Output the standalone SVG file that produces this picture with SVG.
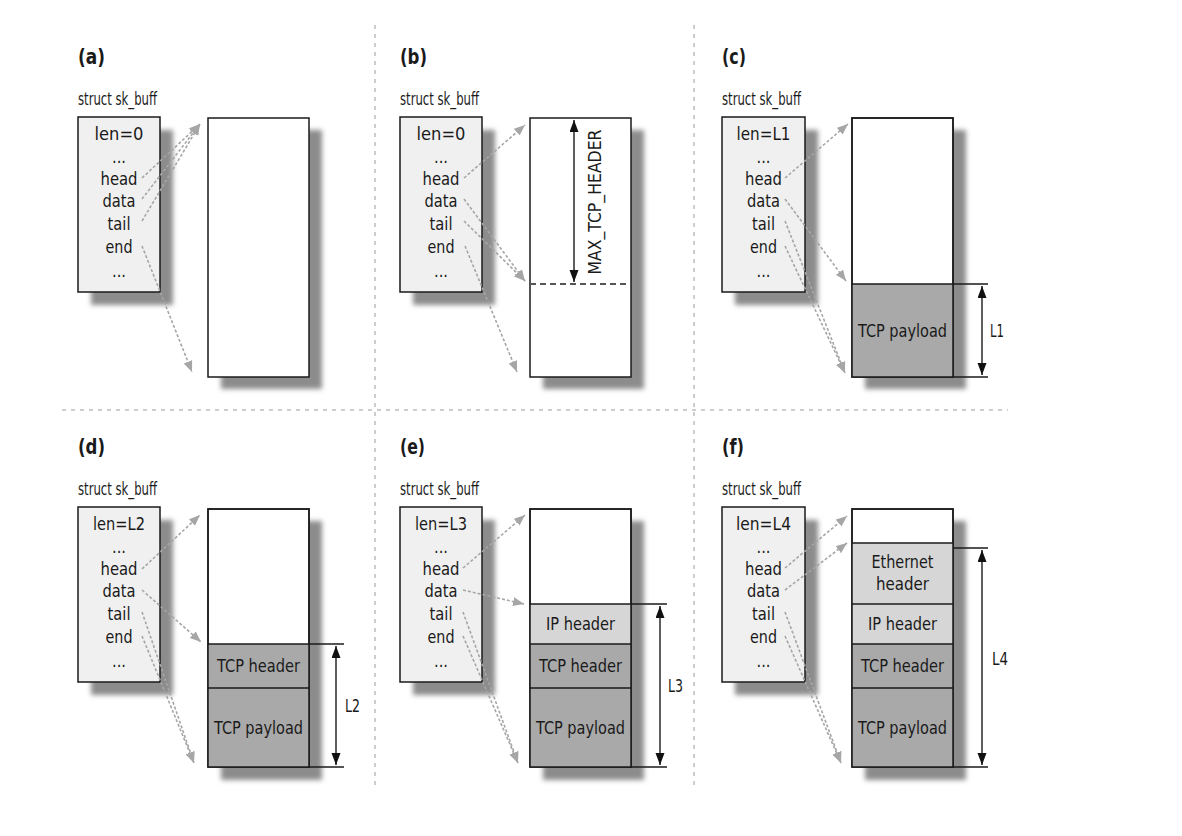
<svg xmlns="http://www.w3.org/2000/svg" width="1182" height="836" viewBox="0 0 1182 836">
<defs>
<style>
.t{font-family:"Liberation Sans Narrow","DejaVu Sans Condensed","Liberation Sans",Arial,sans-serif;fill:#1a1a1a;font-size:18.5px}
.m{text-anchor:middle}
.ttl{font-size:22px;font-weight:bold}
.box{stroke:#1a1a1a;stroke-width:1.5}
.sb{fill:#f0f0f0}
.buf{fill:#ffffff}
.dk{fill:#a9a9a9}
.lt{fill:#d6d6d6}
.sh{fill:#8c8c8c}
.div{stroke:#1a1a1a;stroke-width:1.5;fill:none}
.ptr{fill:none;stroke:#a6a6a6;stroke-width:1.6;stroke-dasharray:3 2;marker-end:url(#gh)}
.dim{stroke:#1a1a1a;stroke-width:1.3;fill:none}
.dar{stroke:#1a1a1a;stroke-width:1.4;fill:none;marker-start:url(#bh);marker-end:url(#bh)}
.sep{stroke:#bdbdbd;stroke-width:1.5;stroke-dasharray:4 5;fill:none}
</style>
<filter id="blur" x="-20%" y="-20%" width="140%" height="140%"><feGaussianBlur stdDeviation="2.5"/></filter>
<marker id="gh" markerWidth="12" markerHeight="10" refX="11" refY="4.5" orient="auto" markerUnits="userSpaceOnUse"><path d="M0,0 L11,4.5 L0,9 z" fill="#a6a6a6"/></marker>
<marker id="bh" markerWidth="13" markerHeight="10" refX="12" refY="4.5" orient="auto-start-reverse" markerUnits="userSpaceOnUse"><path d="M0,0 L12,4.5 L0,9 z" fill="#111"/></marker>
</defs>
<rect width="1182" height="836" fill="#ffffff"/>

<g id="separators">
<line class="sep" x1="375" y1="25" x2="375" y2="786"/>
<line class="sep" x1="694" y1="25" x2="694" y2="786"/>
<line class="sep" x1="62" y1="410" x2="1008" y2="410"/>
</g>

<!-- Panel a -->
<g id="panel-a">
<text class="t ttl" x="78" y="64" textLength="27" lengthAdjust="spacingAndGlyphs">(a)</text>
<g id="a-struct">
<rect class="sh" x="91" y="130" width="82" height="175" filter="url(#blur)"/>
<rect class="box sb" x="78" y="117" width="82" height="175"/>
<text class="t" x="78" y="105" textLength="79" lengthAdjust="spacingAndGlyphs">struct sk_buff</text>
<text class="t m" x="119" y="140" textLength="49" lengthAdjust="spacingAndGlyphs">len=0</text>
<text class="t m" x="119" y="163" textLength="14" lengthAdjust="spacingAndGlyphs">...</text>
<text class="t m" x="119" y="185" textLength="37" lengthAdjust="spacingAndGlyphs">head</text>
<text class="t m" x="119" y="207" textLength="33" lengthAdjust="spacingAndGlyphs">data</text>
<text class="t m" x="119" y="230" textLength="23" lengthAdjust="spacingAndGlyphs">tail</text>
<text class="t m" x="119" y="253" textLength="27" lengthAdjust="spacingAndGlyphs">end</text>
<text class="t m" x="119" y="277" textLength="14" lengthAdjust="spacingAndGlyphs">...</text>
</g>
<g id="a-buffer">
<rect class="sh" x="221" y="130" width="101" height="259" filter="url(#blur)"/>
<rect class="box buf" x="208" y="118" width="101" height="259"/>
</g>
</g>

<!-- Panel b -->
<g id="panel-b" transform="translate(322,0)">
<text class="t ttl" x="78" y="64" textLength="27" lengthAdjust="spacingAndGlyphs">(b)</text>
<g id="b-struct">
<rect class="sh" x="91" y="130" width="82" height="175" filter="url(#blur)"/>
<rect class="box sb" x="78" y="117" width="82" height="175"/>
<text class="t" x="78" y="105" textLength="79" lengthAdjust="spacingAndGlyphs">struct sk_buff</text>
<text class="t m" x="119" y="140" textLength="49" lengthAdjust="spacingAndGlyphs">len=0</text>
<text class="t m" x="119" y="163" textLength="14" lengthAdjust="spacingAndGlyphs">...</text>
<text class="t m" x="119" y="185" textLength="37" lengthAdjust="spacingAndGlyphs">head</text>
<text class="t m" x="119" y="207" textLength="33" lengthAdjust="spacingAndGlyphs">data</text>
<text class="t m" x="119" y="230" textLength="23" lengthAdjust="spacingAndGlyphs">tail</text>
<text class="t m" x="119" y="253" textLength="27" lengthAdjust="spacingAndGlyphs">end</text>
<text class="t m" x="119" y="277" textLength="14" lengthAdjust="spacingAndGlyphs">...</text>
</g>
<g id="b-buffer">
<rect class="sh" x="221" y="130" width="101" height="259" filter="url(#blur)"/>
<rect class="box buf" x="208" y="118" width="101" height="259"/>
<line x1="208" y1="284" x2="309" y2="284" stroke="#555" stroke-width="2" stroke-dasharray="6 4"/>
<line class="dar" x1="252" y1="120" x2="252" y2="282"/>
<text class="t m" transform="translate(279,202) rotate(-90)" textLength="145" lengthAdjust="spacingAndGlyphs">MAX_TCP_HEADER</text>
</g>
</g>

<!-- Panel c -->
<g id="panel-c" transform="translate(644,0)">
<text class="t ttl" x="78" y="64" textLength="24" lengthAdjust="spacingAndGlyphs">(c)</text>
<g id="c-struct">
<rect class="sh" x="91" y="130" width="83" height="175" filter="url(#blur)"/>
<rect class="box sb" x="78" y="117" width="83" height="175"/>
<text class="t" x="78" y="105" textLength="79" lengthAdjust="spacingAndGlyphs">struct sk_buff</text>
<text class="t m" x="119.5" y="140" textLength="54" lengthAdjust="spacingAndGlyphs">len=L1</text>
<text class="t m" x="119.5" y="163" textLength="14" lengthAdjust="spacingAndGlyphs">...</text>
<text class="t m" x="119.5" y="185" textLength="37" lengthAdjust="spacingAndGlyphs">head</text>
<text class="t m" x="119.5" y="207" textLength="33" lengthAdjust="spacingAndGlyphs">data</text>
<text class="t m" x="119.5" y="230" textLength="23" lengthAdjust="spacingAndGlyphs">tail</text>
<text class="t m" x="119.5" y="253" textLength="27" lengthAdjust="spacingAndGlyphs">end</text>
<text class="t m" x="119.5" y="277" textLength="14" lengthAdjust="spacingAndGlyphs">...</text>
</g>
<g id="c-buffer">
<rect class="sh" x="221" y="130" width="101" height="259" filter="url(#blur)"/>
<rect class="box buf" x="208" y="118" width="101" height="259"/>
<rect class="dk" x="208" y="284" width="101" height="93"/>
<rect class="box" fill="none" x="208" y="118" width="101" height="259"/>
<line class="div" x1="208" y1="284" x2="309" y2="284"/>
<text class="t m" x="258.5" y="337" textLength="89" lengthAdjust="spacingAndGlyphs">TCP payload</text>
</g>
<g id="c-dim">
<line class="dim" x1="309" y1="284" x2="344" y2="284"/>
<line class="dim" x1="309" y1="377" x2="344" y2="377"/>
<line class="dar" x1="338" y1="286" x2="338" y2="375"/>
<text class="t" x="346" y="337" textLength="14" lengthAdjust="spacingAndGlyphs">L1</text>
</g>
</g>

<!-- Panel d -->
<g id="panel-d" transform="translate(0,390)">
<text class="t ttl" x="78" y="64" textLength="27" lengthAdjust="spacingAndGlyphs">(d)</text>
<g id="d-struct">
<rect class="sh" x="91" y="130" width="82" height="175" filter="url(#blur)"/>
<rect class="box sb" x="78" y="117" width="82" height="175"/>
<text class="t" x="78" y="105" textLength="79" lengthAdjust="spacingAndGlyphs">struct sk_buff</text>
<text class="t m" x="119" y="140" textLength="52" lengthAdjust="spacingAndGlyphs">len=L2</text>
<text class="t m" x="119" y="163" textLength="14" lengthAdjust="spacingAndGlyphs">...</text>
<text class="t m" x="119" y="185" textLength="37" lengthAdjust="spacingAndGlyphs">head</text>
<text class="t m" x="119" y="207" textLength="33" lengthAdjust="spacingAndGlyphs">data</text>
<text class="t m" x="119" y="230" textLength="23" lengthAdjust="spacingAndGlyphs">tail</text>
<text class="t m" x="119" y="253" textLength="27" lengthAdjust="spacingAndGlyphs">end</text>
<text class="t m" x="119" y="277" textLength="14" lengthAdjust="spacingAndGlyphs">...</text>
</g>
<g id="d-buffer">
<rect class="sh" x="221" y="131" width="101" height="259" filter="url(#blur)"/>
<rect class="box buf" x="208" y="119" width="101" height="258"/>
<rect class="dk" x="208" y="254" width="101" height="123"/>
<rect class="box" fill="none" x="208" y="119" width="101" height="258"/>
<line class="div" x1="208" y1="254" x2="309" y2="254"/>
<line class="div" x1="208" y1="298" x2="309" y2="298"/>
<text class="t m" x="258.5" y="282" textLength="83" lengthAdjust="spacingAndGlyphs">TCP header</text>
<text class="t m" x="258.5" y="344" textLength="89" lengthAdjust="spacingAndGlyphs">TCP payload</text>
</g>
<g id="d-dim">
<line class="dim" x1="309" y1="254" x2="344" y2="254"/>
<line class="dim" x1="309" y1="377" x2="344" y2="377"/>
<line class="dar" x1="336" y1="256" x2="336" y2="375"/>
<text class="t" x="345" y="322" textLength="15" lengthAdjust="spacingAndGlyphs">L2</text>
</g>
</g>

<!-- Panel e -->
<g id="panel-e" transform="translate(322,390)">
<text class="t ttl" x="78" y="64" textLength="25" lengthAdjust="spacingAndGlyphs">(e)</text>
<g id="e-struct">
<rect class="sh" x="91" y="130" width="82" height="175" filter="url(#blur)"/>
<rect class="box sb" x="78" y="117" width="82" height="175"/>
<text class="t" x="78" y="105" textLength="79" lengthAdjust="spacingAndGlyphs">struct sk_buff</text>
<text class="t m" x="119" y="140" textLength="52" lengthAdjust="spacingAndGlyphs">len=L3</text>
<text class="t m" x="119" y="163" textLength="14" lengthAdjust="spacingAndGlyphs">...</text>
<text class="t m" x="119" y="185" textLength="37" lengthAdjust="spacingAndGlyphs">head</text>
<text class="t m" x="119" y="207" textLength="33" lengthAdjust="spacingAndGlyphs">data</text>
<text class="t m" x="119" y="230" textLength="23" lengthAdjust="spacingAndGlyphs">tail</text>
<text class="t m" x="119" y="253" textLength="27" lengthAdjust="spacingAndGlyphs">end</text>
<text class="t m" x="119" y="277" textLength="14" lengthAdjust="spacingAndGlyphs">...</text>
</g>
<g id="e-buffer">
<rect class="sh" x="221" y="131" width="101" height="259" filter="url(#blur)"/>
<rect class="box buf" x="208" y="119" width="101" height="258"/>
<rect class="lt" x="208" y="214" width="101" height="40"/>
<rect class="dk" x="208" y="254" width="101" height="123"/>
<rect class="box" fill="none" x="208" y="119" width="101" height="258"/>
<line class="div" x1="208" y1="214" x2="309" y2="214"/>
<line class="div" x1="208" y1="254" x2="309" y2="254"/>
<line class="div" x1="208" y1="298" x2="309" y2="298"/>
<text class="t m" x="258.5" y="240" textLength="69" lengthAdjust="spacingAndGlyphs">IP header</text>
<text class="t m" x="258.5" y="282" textLength="83" lengthAdjust="spacingAndGlyphs">TCP header</text>
<text class="t m" x="258.5" y="344" textLength="89" lengthAdjust="spacingAndGlyphs">TCP payload</text>
</g>
<g id="e-dim">
<line class="dim" x1="309" y1="214" x2="345" y2="214"/>
<line class="dim" x1="309" y1="377" x2="345" y2="377"/>
<line class="dar" x1="338" y1="216" x2="338" y2="375"/>
<text class="t" x="346" y="302" textLength="15" lengthAdjust="spacingAndGlyphs">L3</text>
</g>
</g>

<!-- Panel f -->
<g id="panel-f" transform="translate(644,390)">
<text class="t ttl" x="78" y="64" textLength="22" lengthAdjust="spacingAndGlyphs">(f)</text>
<g id="f-struct">
<rect class="sh" x="91" y="130" width="83" height="175" filter="url(#blur)"/>
<rect class="box sb" x="78" y="117" width="83" height="175"/>
<text class="t" x="78" y="105" textLength="79" lengthAdjust="spacingAndGlyphs">struct sk_buff</text>
<text class="t m" x="119.5" y="140" textLength="55" lengthAdjust="spacingAndGlyphs">len=L4</text>
<text class="t m" x="119.5" y="163" textLength="14" lengthAdjust="spacingAndGlyphs">...</text>
<text class="t m" x="119.5" y="185" textLength="37" lengthAdjust="spacingAndGlyphs">head</text>
<text class="t m" x="119.5" y="207" textLength="33" lengthAdjust="spacingAndGlyphs">data</text>
<text class="t m" x="119.5" y="230" textLength="23" lengthAdjust="spacingAndGlyphs">tail</text>
<text class="t m" x="119.5" y="253" textLength="27" lengthAdjust="spacingAndGlyphs">end</text>
<text class="t m" x="119.5" y="277" textLength="14" lengthAdjust="spacingAndGlyphs">...</text>
</g>
<g id="f-buffer">
<rect class="sh" x="221" y="131" width="101" height="259" filter="url(#blur)"/>
<rect class="box buf" x="208" y="119" width="101" height="258"/>
<rect class="lt" x="208" y="153" width="101" height="101"/>
<rect class="dk" x="208" y="254" width="101" height="123"/>
<rect class="box" fill="none" x="208" y="119" width="101" height="258"/>
<line class="div" x1="208" y1="153" x2="309" y2="153"/>
<line class="div" x1="208" y1="214" x2="309" y2="214"/>
<line class="div" x1="208" y1="254" x2="309" y2="254"/>
<line class="div" x1="208" y1="298" x2="309" y2="298"/>
<text class="t m" x="258.5" y="178" textLength="62" lengthAdjust="spacingAndGlyphs">Ethernet</text>
<text class="t m" x="258.5" y="200" textLength="53" lengthAdjust="spacingAndGlyphs">header</text>
<text class="t m" x="258.5" y="240" textLength="69" lengthAdjust="spacingAndGlyphs">IP header</text>
<text class="t m" x="258.5" y="282" textLength="83" lengthAdjust="spacingAndGlyphs">TCP header</text>
<text class="t m" x="258.5" y="344" textLength="89" lengthAdjust="spacingAndGlyphs">TCP payload</text>
</g>
<g id="f-dim">
<line class="dim" x1="309" y1="158" x2="344" y2="158"/>
<line class="dim" x1="309" y1="377" x2="344" y2="377"/>
<line class="dar" x1="338" y1="160" x2="338" y2="375"/>
<text class="t" x="348" y="275" textLength="16" lengthAdjust="spacingAndGlyphs">L4</text>
</g>
</g>

<!-- Connectors -->
<g id="connectors">
<g id="conn-a">
<path class="ptr" d="M142,178 L200,124"/>
<path class="ptr" d="M142,199 L200,124"/>
<path class="ptr" d="M142,221 L200,124"/>
<path class="ptr" d="M142,246 L192,372"/>
</g>
<g id="conn-b" transform="translate(322,0)">
<path class="ptr" d="M142,178 L203,125"/>
<path class="ptr" d="M142,199 L203,281"/>
<path class="ptr" d="M142,221 L203,281"/>
<path class="ptr" d="M143,246 L195,372"/>
</g>
<g id="conn-c" transform="translate(644,0)">
<path class="ptr" d="M141,178 L204,124"/>
<path class="ptr" d="M141,199 L202,281"/>
<path class="ptr" d="M141,221 L201,373"/>
<path class="ptr" d="M141,246 L201,373"/>
</g>
<g id="conn-d" transform="translate(0,390)">
<path class="ptr" d="M142,179 L200,125"/>
<path class="ptr" d="M142,200 L201,252"/>
<path class="ptr" d="M142,222 L194,373"/>
<path class="ptr" d="M142,246 L194,373"/>
</g>
<g id="conn-e" transform="translate(322,390)">
<path class="ptr" d="M141,178 L203,125"/>
<path class="ptr" d="M141,200 L202,214"/>
<path class="ptr" d="M141,222 L196,373"/>
<path class="ptr" d="M141,246 L196,373"/>
</g>
<g id="conn-f" transform="translate(644,390)">
<path class="ptr" d="M141,178 L203,126"/>
<path class="ptr" d="M141,200 L203,153"/>
<path class="ptr" d="M141,222 L197,373"/>
<path class="ptr" d="M141,246 L197,373"/>
</g>
</g>
</svg>
